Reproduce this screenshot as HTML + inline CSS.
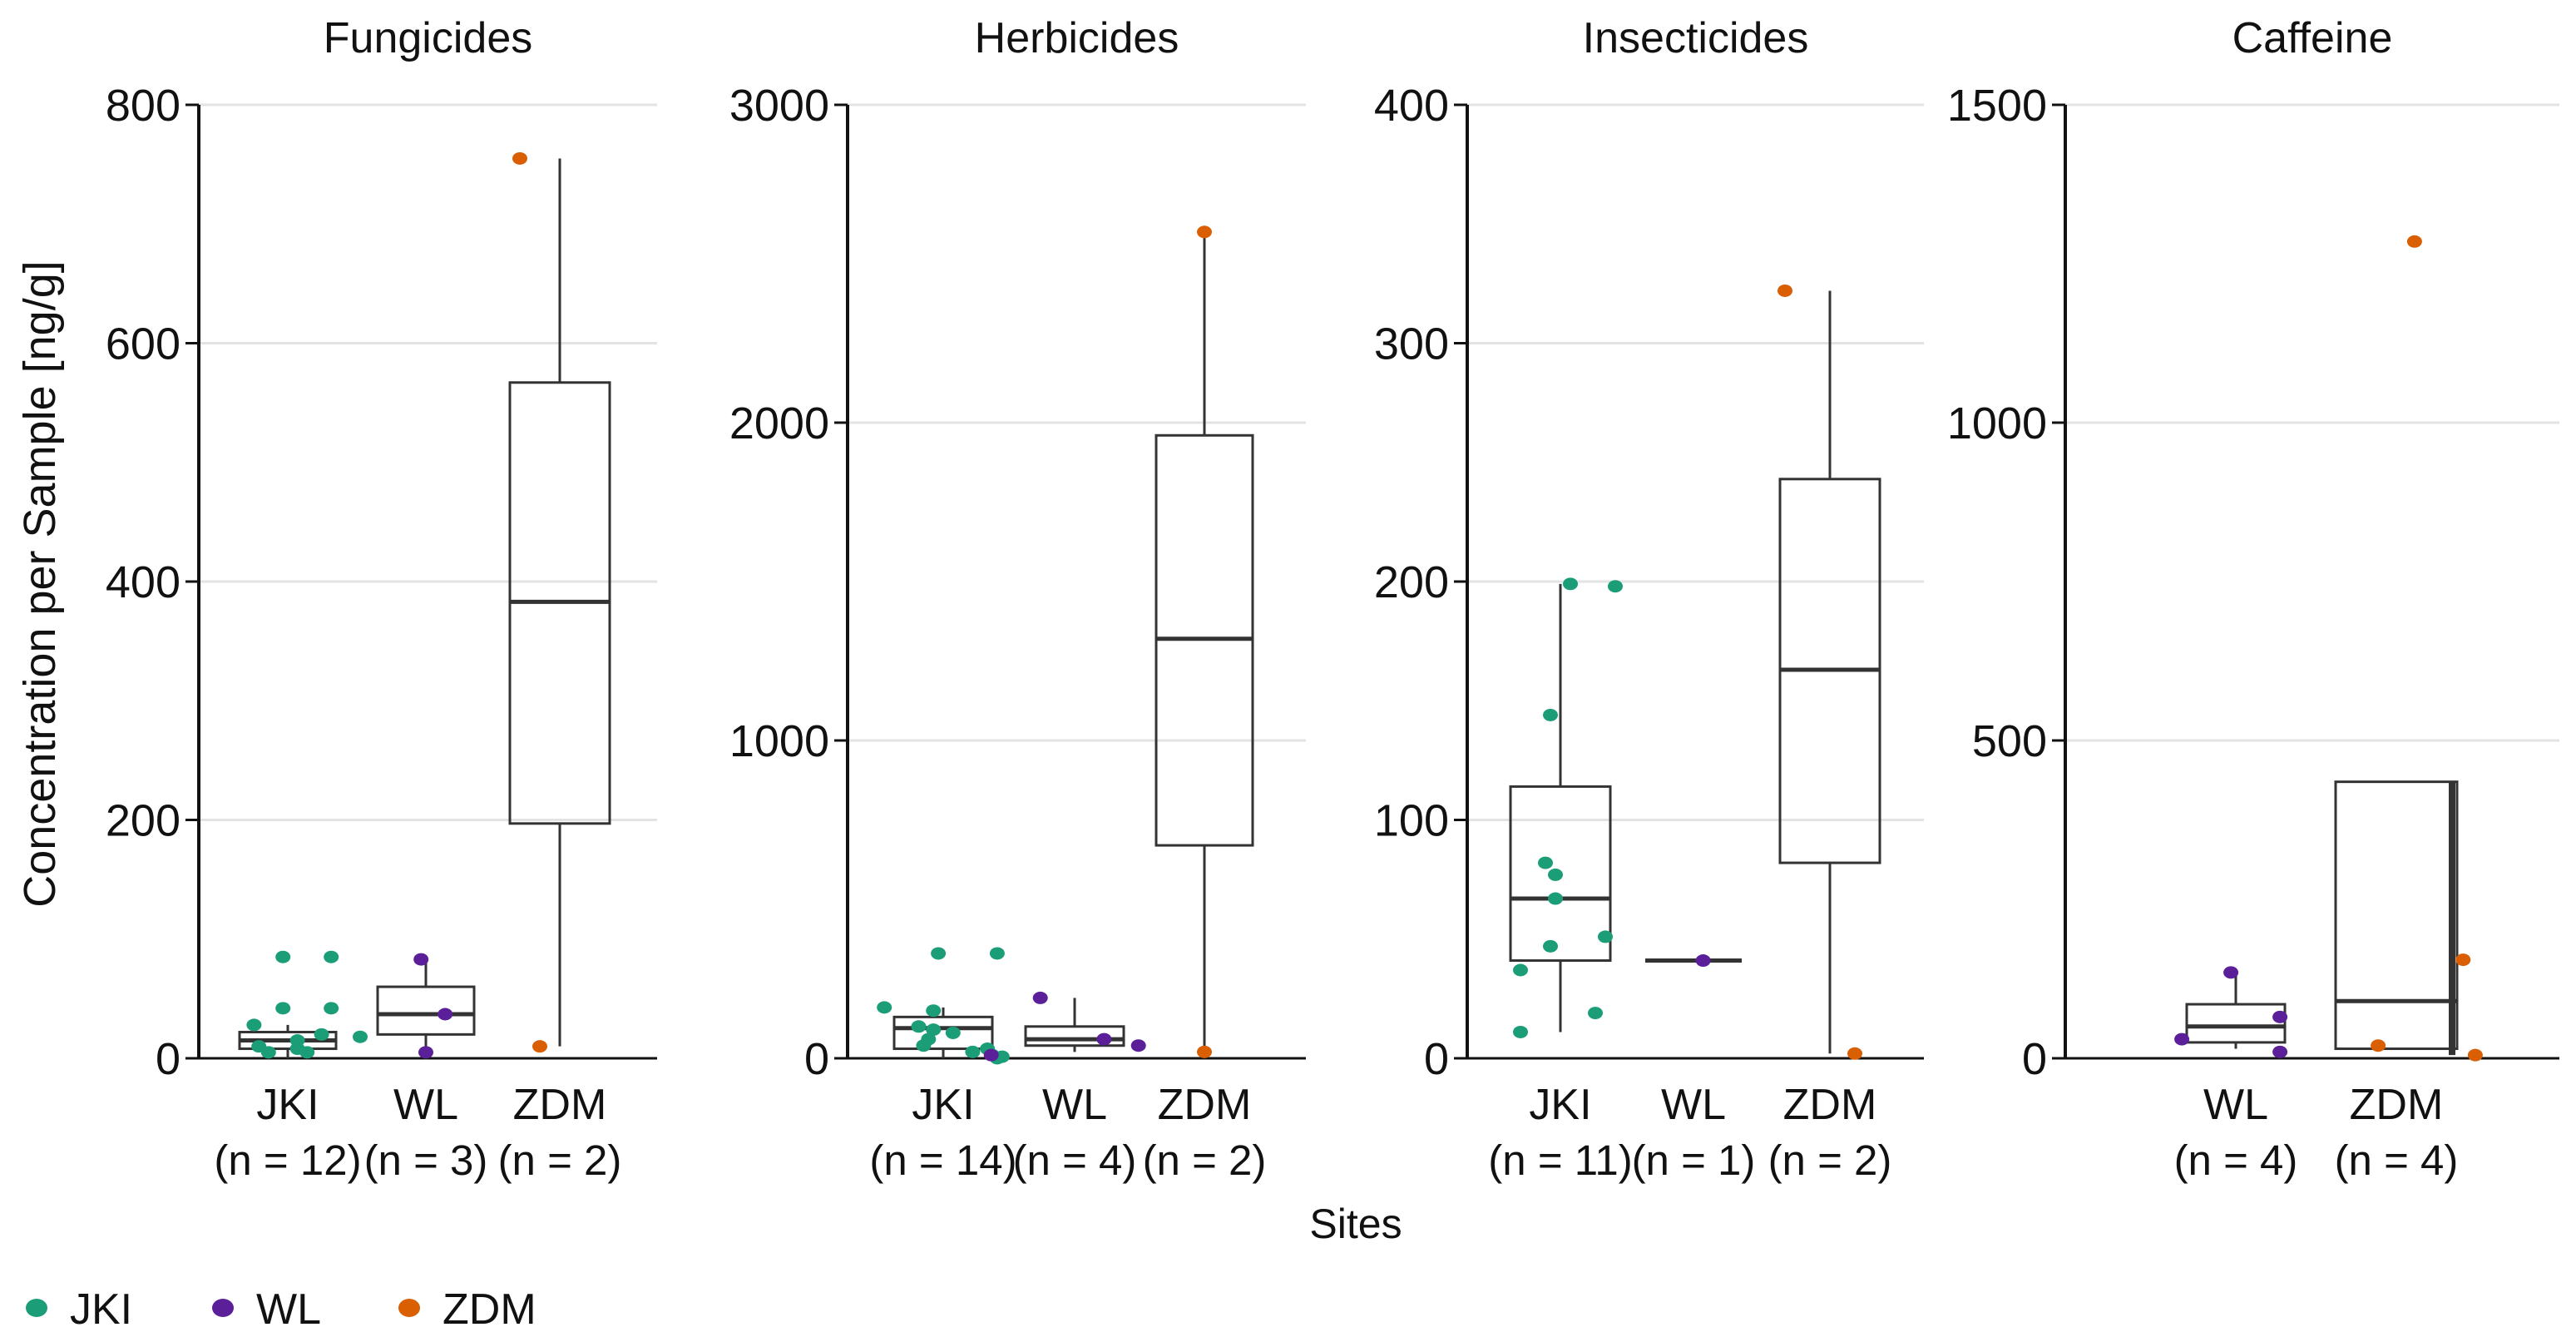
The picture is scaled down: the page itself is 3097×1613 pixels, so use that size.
<!DOCTYPE html>
<html><head><meta charset="utf-8">
<style>
html,body{margin:0;padding:0;background:#fff;}
svg{display:block;font-family:"Liberation Sans",sans-serif;}
</style></head>
<body>
<svg id="chart" width="3097" height="1613" viewBox="0 0 3097 1613" xmlns="http://www.w3.org/2000/svg"></svg>
<script>
const panelTitles = ["Fungicides","Herbicides","Insecticides","Caffeine"];
const panelMax = [800,3000,400,1500];
const panelTicks = [[0,200,400,600,800],[0,1000,2000,3000],[0,100,200,300,400],[0,500,1000,1500]];
const panelCats = [["JKI","WL","ZDM"],["JKI","WL","ZDM"],["JKI","WL","ZDM"],["WL","ZDM"]];
const panelCounts = [["(n = 12)","(n = 3)","(n = 2)"],["(n = 14)","(n = 4)","(n = 2)"],["(n = 11)","(n = 1)","(n = 2)"],["(n = 4)","(n = 4)"]];
// box stats: [whiskerLow, q1, median, q3, whiskerHigh]
const fungBoxes = [[0,8,15,22,28],[5,20,37,60,83],[10,197,383,567,755]];
const herbBoxes = [[0,30,95,130,160],[20,40,60,100,190],[25,670,1320,1960,2600]];
const insBoxes = [[11,41,67,114,199],[41,41,41,41,41],[2,82,163,243,322]];
const cafBoxes = [[15,25,50,85,135],[5,15,90,435,435]];
const panelBoxes = [fungBoxes,herbBoxes,insBoxes,cafBoxes];
// points per category
const fungPts = [[85,85,42,42,28,20,18,15,10,8,5,5],[83,37,5],[755,10]];
const herbPts = [[330,330,160,150,100,90,80,60,40,30,20,10,5,0],[190,60,40,10],[2600,20]];
const insPts = [[199,198,144,82,77,67,51,47,37,19,11],[41],[322,2]];
const cafPts = [[135,65,30,10],[1285,155,20,5]];
const panelPts = [fungPts,herbPts,insPts,cafPts];
// jitter offsets (in box-width fractions)
const fungJit = [[-0.05,0.45,-0.05,0.45,-0.35,0.35,0.75,0.1,-0.3,0.1,-0.2,0.2],[-0.05,0.2,0.0],[-0.4,-0.2]];
const herbJit = [[-0.05,0.55,-0.6,-0.1,-0.25,-0.1,0.1,-0.15,-0.2,0.45,0.3,0.5,0.6,0.55],[-0.35,0.3,0.65,-0.85],[0,0.0]];
const insJit = [[0.1,0.55,-0.1,-0.15,-0.05,-0.05,0.45,-0.1,-0.4,0.35,-0.4],[0.1],[-0.45,0.25]];
const cafJit = [[-0.05,0.45,-0.55,0.45],[0.15,0.55,-0.15,0.65]];
const panelJit = [fungJit,herbJit,insJit,cafJit];

const siteColors = {JKI:"#1b9e77",WL:"#5a1f99",ZDM:"#d95f02"};
const axisX = [239,1019,1764,2483];
const rightX = [790,1570,2313,3077];
const catX = [[346,512,673],[1134,1292,1448],[1876,2036,2200],[2688,2881]];
const boxW = [[116,116,120],[118,118,116],[120,116,120],[118,146]];
const y0 = 1272, yTop = 126;
const NS = "http://www.w3.org/2000/svg";
const svg = document.getElementById("chart");
function mk(tag, attrs, parent){
  const e=document.createElementNS(NS,tag);
  for(const k in attrs) e.setAttribute(k,attrs[k]);
  (parent||svg).appendChild(e); return e;
}
for(let p=0;p<4;p++){
  const g=mk("g",{});
  
  
  const yS=v=>y0-(v/panelMax[p])*(y0-yTop);
  const t=mk("text",{x:(axisX[p]+rightX[p])/2,y:63,"text-anchor":"middle","font-size":52,fill:"#111"},g);
  t.textContent=panelTitles[p];
  
  
  panelTicks[p].forEach(v=>{
    if(v>0){const gl=mk("line",{x1:axisX[p],x2:rightX[p],y1:yS(v),y2:yS(v),stroke:"#e3e3e3","stroke-width":3},g);
    
    }
    mk("line",{x1:axisX[p]-16,x2:axisX[p],y1:yS(v),y2:yS(v),stroke:"#111","stroke-width":3},g);
    const tl=mk("text",{x:axisX[p]-22,y:yS(v)+19,"text-anchor":"end","font-size":54,fill:"#111"},g);
    tl.textContent=v;
    
    
  });
  const ya=mk("line",{x1:axisX[p],x2:axisX[p],y1:yTop,y2:y0,stroke:"#111","stroke-width":4},g);
  
  
  const xa=mk("line",{x1:axisX[p]-16,x2:rightX[p],y1:y0,y2:y0,stroke:"#111","stroke-width":3},g);
  
  
  panelCats[p].forEach((c,i)=>{
    const cx=catX[p][i], w=boxW[p][i], b=panelBoxes[p][i];
    const bg=mk("g",{},g);
    
    
    const caf=(p===3&&c==="ZDM");
    if(caf){
      const wx=cx+w/2-6;
      mk("line",{x1:wx,x2:wx,y1:yS(b[0]),y2:yS(b[4]),stroke:"#333","stroke-width":8},bg);
    } else {
      mk("line",{x1:cx,x2:cx,y1:yS(b[0]),y2:yS(b[1]),stroke:"#333","stroke-width":3},bg);
      mk("line",{x1:cx,x2:cx,y1:yS(b[3]),y2:yS(b[4]),stroke:"#333","stroke-width":3},bg);
    }
    if(b[3]>b[1]) mk("rect",{x:cx-w/2,y:yS(b[3]),width:w,height:yS(b[1])-yS(b[3]),fill:"none",stroke:"#333","stroke-width":3},bg);
    mk("line",{x1:cx-w/2,x2:cx+w/2,y1:yS(b[2]),y2:yS(b[2]),stroke:"#333","stroke-width":5},bg);
    panelPts[p][i].forEach((v,k)=>{
      const pt=mk("ellipse",{cx:cx+panelJit[p][i][k]*w,cy:yS(v),rx:9,ry:7.5,fill:siteColors[c]},g);
      
      
    });
    const cl=mk("text",{x:cx,y:1345,"text-anchor":"middle","font-size":52,fill:"#111"},g);
    cl.textContent=c;
    
    
    const nl=mk("text",{x:cx,y:1412,"text-anchor":"middle","font-size":51,fill:"#111"},g);
    nl.textContent=panelCounts[p][i];
    
    
  });
}
const yt=mk("text",{x:0,y:0,"text-anchor":"middle","font-size":54,fill:"#111",transform:"translate(66,702) rotate(-90)"});
yt.textContent="Concentration per Sample [ng/g]";


const xt=mk("text",{x:1630,y:1488,"text-anchor":"middle","font-size":50,fill:"#111"});
xt.textContent="Sites";


const legSites=["JKI","WL","ZDM"];
const legX=[44,268,492];
legSites.forEach((s,i)=>{
  const lg=mk("g",{});
  
  
  mk("ellipse",{cx:legX[i],cy:1572,rx:13,ry:11,fill:siteColors[s]},lg);
  const lt=mk("text",{x:legX[i]+40,y:1591,"font-size":52,fill:"#111"},lg);
  lt.textContent=s;
});
</script>
</body></html>
